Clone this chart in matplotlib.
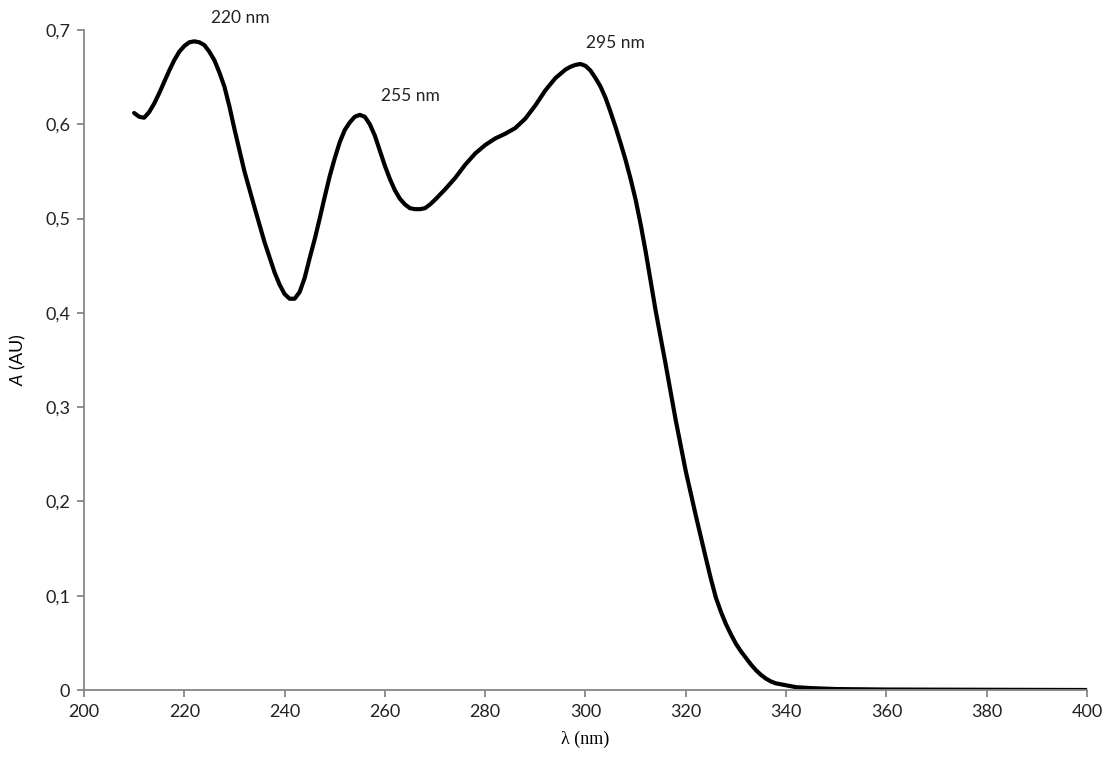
import matplotlib
matplotlib.use("Agg")
import matplotlib.pyplot as plt
from matplotlib.ticker import FuncFormatter, MultipleLocator

plt.rcParams['mathtext.fontset'] = 'custom'
plt.rcParams['mathtext.it'] = 'Lato:italic'
plt.rcParams['mathtext.rm'] = 'Lato'

wavelength = [210, 211, 212, 213, 214, 215, 216, 217, 218, 219, 220, 221, 222, 223, 224, 225,
              226, 227, 228, 229, 230, 232, 234, 236, 238, 239, 240, 241, 242, 243, 244, 245,
              246, 247, 248, 249, 250, 251, 252, 253, 254, 255, 256, 257, 258, 259, 260, 261,
              262, 263, 264, 265, 266, 267, 268, 269, 270, 272, 274, 276, 278, 280, 282, 284,
              286, 288, 290, 292, 294, 296, 297, 298, 299, 300, 301, 302, 303, 304, 305, 306,
              307, 308, 309, 310, 311, 312, 314, 316, 318, 320, 322, 324, 325, 326, 327, 328,
              329, 330, 331, 332, 333, 334, 335, 336, 337, 338, 340, 342, 345, 350, 360, 400]
absorbance = [0.612, 0.608, 0.607, 0.613, 0.622, 0.633, 0.645, 0.657, 0.668, 0.677, 0.683, 0.687,
              0.688, 0.687, 0.684, 0.677, 0.668, 0.655, 0.640, 0.619, 0.595, 0.550, 0.512, 0.475,
              0.443, 0.430, 0.420, 0.415, 0.415, 0.422, 0.437, 0.458, 0.478, 0.500, 0.523, 0.545,
              0.564, 0.581, 0.594, 0.602, 0.608, 0.610, 0.608, 0.600, 0.588, 0.572, 0.556, 0.542,
              0.530, 0.521, 0.515, 0.511, 0.510, 0.510, 0.511, 0.515, 0.520, 0.531, 0.543, 0.557,
              0.569, 0.578, 0.585, 0.590, 0.596, 0.606, 0.620, 0.636, 0.649, 0.658, 0.661, 0.663,
              0.664, 0.662, 0.657, 0.649, 0.640, 0.628, 0.613, 0.597, 0.580, 0.562, 0.542, 0.520,
              0.494, 0.465, 0.402, 0.345, 0.286, 0.232, 0.185, 0.140, 0.118, 0.098, 0.083, 0.070,
              0.059, 0.049, 0.041, 0.034, 0.027, 0.021, 0.016, 0.012, 0.009, 0.007, 0.005, 0.003,
              0.002, 0.001, 0.0005, 0.0]

peak_labels = ["220 nm", "255 nm", "295 nm"]
peak_label_x = [231.1, 265.0, 305.9]
peak_label_y = [0.7126, 0.630, 0.686]

fig = plt.figure(figsize=(11.05, 7.6), dpi=100)
ax = fig.add_axes([0.076, 0.0921, 0.9077, 0.8684])

ax.plot(wavelength, absorbance, color='black', lw=3.0, solid_capstyle='round', solid_joinstyle='round')

ax.set_xlim(200, 400)
ax.set_ylim(0, 0.7)
ax.xaxis.set_major_locator(MultipleLocator(20))
ax.yaxis.set_major_locator(MultipleLocator(0.1))
ax.yaxis.set_major_formatter(FuncFormatter(lambda v, p: "0" if abs(v) < 1e-9 else f"{v:.1f}".replace('.', ',')))

gray = '#868686'
for s in ['top', 'right']:
    ax.spines[s].set_visible(False)
for s in ['left', 'bottom']:
    ax.spines[s].set_color(gray)
    ax.spines[s].set_linewidth(1.3)
ax.tick_params(axis='both', direction='out', length=5, width=1.3, color=gray,
               labelsize=13, labelcolor='#222222', pad=5)
for lab in ax.get_xticklabels() + ax.get_yticklabels():
    lab.set_fontfamily('Lato')

ax.set_xlabel("λ (nm)", fontsize=13, family='Liberation Serif', labelpad=8)
ax.set_ylabel(r"$\mathit{A}$ (AU)", fontsize=13, family='Lato', labelpad=12)

for t, x, y in zip(peak_labels, peak_label_x, peak_label_y):
    ax.text(x, y, t, ha='center', va='center', fontsize=12.5, family='Lato', color='#222222', clip_on=False)

fig.savefig("out.png", dpi=100)
